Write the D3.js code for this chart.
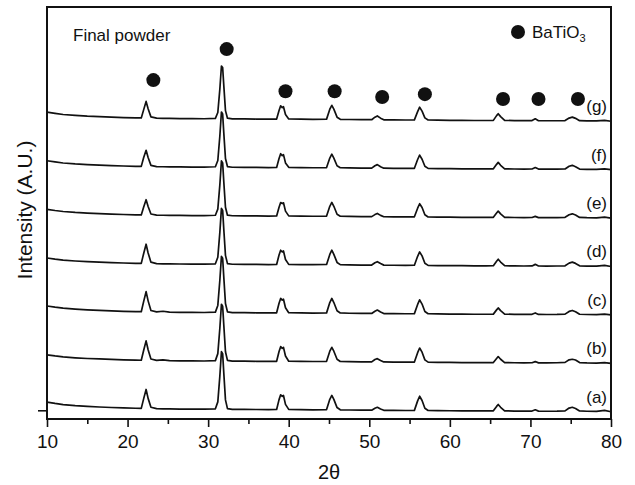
<!DOCTYPE html>
<html>
<head>
<meta charset="utf-8">
<script src="https://cdn.jsdelivr.net/npm/d3@7"></script>
<style>
body { margin: 0; background: #fff; }
svg { display: block; font-family: "Liberation Sans", Arial, sans-serif; }
.trace { fill: none; stroke: #111; stroke-width: 1.7; stroke-linejoin: round; }
.axis text { font-size: 19px; fill: #111; }
.axis line { stroke: #111; stroke-width: 1.6; }
.frame { fill: none; stroke: #111; stroke-width: 2; }
</style>
</head>
<body>
<script>
// 2theta grid the patterns were read at
const twoTheta = [
    10, 11, 12, 13.5, 15, 16.5, 18, 19.5, 21, 21.7,
    22.0, 22.3, 22.55, 22.9, 23.6, 24.4, 25.2, 26.5, 28, 29.5,
    30.9, 31.2, 31.45, 31.65, 31.8, 31.95, 32.15, 32.4, 33, 34.5,
    36, 37.5, 38.5, 38.8, 39.0, 39.2, 39.35, 39.6, 40.0, 41.5,
    43, 44.7, 45.1, 45.35, 45.6, 46.0, 46.4, 47.5, 49, 50.3,
    50.7, 51.0, 51.4, 51.8, 53, 54.5, 55.6, 56.0, 56.25, 56.55,
    56.9, 57.3, 58.5, 60, 61.5, 63, 64.5, 65.4, 65.8, 66.0,
    66.3, 66.8, 68, 69.2, 70.2, 70.6, 71.0, 72, 73.3, 74.3,
    74.8, 75.2, 75.6, 76.1, 77, 78.2, 79.2, 80
];

const seriesLabels = ["(a)", "(b)", "(c)", "(d)", "(e)", "(f)", "(g)"];

const traceA = [
    100, 86, 74, 63, 55, 49, 44, 40, 36, 35,
    135, 230, 138, 46, 32, 30, 29, 28, 27, 26,
    30, 102, 365, 620, 600, 390, 122, 32, 25, 24,
    23, 22, 23, 125, 175, 158, 168, 76, 24, 21,
    20, 22, 128, 168, 128, 43, 20, 18, 16, 16,
    36, 46, 28, 15, 14, 13, 14, 112, 160, 116,
    36, 13, 11, 10, 9, 8, 8, 9, 55, 75,
    46, 9, 7, 6, 7, 20, 6, 5, 6, 9,
    38, 46, 34, 8, 5, 4, 14, 0
];
const traceB = [
    88, 76, 66, 57, 50, 45, 40, 36, 33, 32,
    135, 232, 140, 45, 30, 36, 27, 26, 25, 24,
    28, 100, 360, 610, 590, 385, 120, 30, 23, 22,
    21, 20, 21, 122, 172, 155, 165, 75, 22, 20,
    19, 21, 125, 165, 125, 42, 19, 17, 15, 15,
    40, 48, 30, 14, 13, 12, 13, 110, 158, 115,
    36, 12, 10, 9, 8, 7, 7, 8, 50, 70,
    42, 8, 6, 5, 6, 18, 5, 4, 6, 10,
    36, 42, 34, 8, 4, 3, 8, 0
];
const traceC = [
    92, 80, 70, 60, 52, 46, 41, 37, 34, 33,
    140, 240, 145, 46, 31, 38, 28, 27, 26, 25,
    29, 98, 355, 605, 585, 380, 118, 31, 24, 23,
    22, 21, 22, 120, 170, 152, 162, 74, 23, 20,
    19, 21, 128, 170, 128, 43, 20, 17, 15, 15,
    38, 50, 30, 14, 13, 12, 13, 108, 155, 112,
    35, 12, 10, 9, 8, 7, 7, 8, 52, 72,
    44, 8, 6, 5, 6, 20, 5, 4, 5, 8,
    36, 46, 33, 7, 4, 3, 8, 0
];
const traceD = [
    88, 76, 66, 57, 50, 45, 40, 36, 33, 32,
    135, 230, 140, 45, 30, 28, 27, 26, 25, 24,
    28, 95, 350, 600, 580, 375, 115, 30, 23, 22,
    21, 20, 21, 118, 168, 150, 160, 72, 22, 20,
    19, 21, 125, 168, 125, 42, 19, 17, 15, 15,
    38, 50, 30, 14, 13, 12, 13, 105, 150, 110,
    34, 12, 10, 9, 8, 7, 7, 8, 55, 75,
    46, 8, 6, 5, 6, 22, 5, 4, 5, 7,
    35, 45, 32, 7, 4, 3, 12, 0
];
const traceE = [
    90, 78, 68, 58, 51, 46, 41, 37, 34, 33,
    115, 190, 120, 42, 31, 29, 28, 27, 26, 25,
    29, 92, 340, 590, 570, 365, 112, 30, 24, 23,
    22, 21, 22, 112, 160, 150, 158, 72, 23, 20,
    19, 21, 122, 162, 122, 40, 19, 17, 15, 15,
    36, 48, 28, 14, 13, 12, 13, 102, 148, 110,
    34, 12, 10, 9, 8, 7, 7, 8, 52, 72,
    44, 8, 6, 5, 6, 18, 5, 4, 5, 8,
    34, 44, 32, 7, 4, 3, 9, 0
];
const traceF = [
    92, 80, 69, 59, 52, 46, 42, 38, 35, 34,
    125, 200, 125, 44, 32, 30, 29, 28, 27, 26,
    30, 95, 345, 595, 575, 370, 115, 32, 25, 24,
    23, 22, 23, 115, 165, 145, 155, 70, 24, 21,
    20, 22, 120, 160, 120, 40, 20, 18, 16, 16,
    40, 52, 30, 15, 14, 13, 14, 105, 150, 108,
    35, 13, 11, 10, 9, 8, 8, 9, 55, 75,
    45, 9, 7, 6, 7, 22, 6, 5, 5, 7,
    35, 45, 30, 6, 4, 3, 8, 0
];
const traceG = [
    95, 82, 70, 60, 52, 47, 42, 38, 35, 34,
    120, 205, 130, 45, 32, 30, 29, 28, 27, 26,
    30, 90, 330, 570, 555, 360, 110, 32, 25, 24,
    23, 22, 23, 110, 160, 140, 150, 70, 24, 21,
    20, 22, 125, 165, 125, 42, 20, 18, 16, 16,
    42, 55, 32, 15, 14, 13, 14, 100, 145, 105,
    35, 13, 11, 10, 9, 8, 8, 9, 58, 78,
    48, 9, 7, 6, 7, 26, 6, 5, 5, 7,
    33, 43, 30, 6, 4, 3, 10, 0
];

// BaTiO3 reflection markers (2theta, height in the same A.U.)
const markerTheta = [23.2, 32.3, 39.6, 45.7, 51.6, 56.9, 66.6, 71.0, 75.9];
const markerLevel = [3425, 3745, 3310, 3310, 3250, 3280, 3230, 3230, 3230];

const xTicks = [10, 20, 30, 40, 50, 60, 70, 80];
const xMinorTicks = [15, 25, 35, 45, 55, 65, 75];

function drawPattern(svg)
{
    const width = 635;
    const height = 485;
    const left = 47, right = 611, top = 7, bottom = 419;
    const stackStep = 500;
    const traces = [traceA, traceB, traceC, traceD, traceE, traceF, traceG];

    svg.attr("width", width)
        .attr("height", height);

    let xScale = d3.scaleLinear()
        .domain([10, 80])
        .range([left, right]);
    let yScale = d3.scaleLinear()
        .domain([-75, 4180])
        .range([bottom, top]);

    let lineGen = d3.line()
        .x(d => xScale(d[0]))
        .y(d => yScale(d[1]));

    // stacked patterns, (a) at the bottom
    svg.append("g")
        .selectAll("path")
        .data(traces.map((t, i) => twoTheta.map((x, j) => [x, t[j] + i * stackStep])))
        .enter()
        .append("path")
        .classed("trace", true)
        .attr("d", lineGen);

    svg.append("g")
        .selectAll("text")
        .data(seriesLabels)
        .enter()
        .append("text")
        .attr("x", 607)
        .attr("y", (d, i) => yScale(i * stackStep) - 9)
        .attr("text-anchor", "end")
        .attr("font-size", 17)
        .attr("fill", "#111")
        .text(d => d);

    svg.append("g")
        .selectAll("circle")
        .data(markerTheta)
        .enter()
        .append("circle")
        .attr("cx", d => xScale(d))
        .attr("cy", (d, i) => yScale(markerLevel[i]))
        .attr("r", 7)
        .attr("fill", "#111");

    // frame round the plot
    svg.append("path")
        .classed("frame", true)
        .attr("d", `M${left},${top}H${right}V${bottom}H${left}Z`);

    let xAxis = svg.append("g")
        .classed("axis", true)
        .attr("transform", `translate(0,${bottom})`)
        .call(d3.axisBottom(xScale).tickValues(xTicks).tickSize(8).tickPadding(8));
    xAxis.select(".domain").remove();

    let xMinor = svg.append("g")
        .classed("axis", true)
        .attr("transform", `translate(0,${bottom})`)
        .call(d3.axisBottom(xScale).tickValues(xMinorTicks).tickSize(5).tickFormat(""));
    xMinor.select(".domain").remove();

    let yAxis = svg.append("g")
        .classed("axis", true)
        .attr("transform", `translate(${left},0)`)
        .call(d3.axisLeft(yScale).tickValues([15]).tickSize(9).tickFormat(""));
    yAxis.select(".domain").remove();

    svg.selectAll(".axis text").attr("font-family", null).attr("font-size", null);

    // titles and legend
    svg.append("text")
        .attr("x", 329)
        .attr("y", 479)
        .attr("text-anchor", "middle")
        .attr("font-size", 20)
        .attr("fill", "#111")
        .text("2θ");

    svg.append("text")
        .attr("transform", "translate(32,210) rotate(-90)")
        .attr("text-anchor", "middle")
        .attr("font-size", 21)
        .attr("fill", "#111")
        .text("Intensity (A.U.)");

    svg.append("text")
        .attr("x", 73)
        .attr("y", 41)
        .attr("font-size", 17)
        .attr("fill", "#111")
        .text("Final powder");

    svg.append("circle")
        .attr("cx", 518)
        .attr("cy", 32)
        .attr("r", 7)
        .attr("fill", "#111");

    let legendText = svg.append("text")
        .attr("x", 532)
        .attr("y", 38)
        .attr("font-size", 17)
        .attr("fill", "#111");
    legendText.append("tspan").text("BaTiO");
    legendText.append("tspan")
        .attr("dy", 4)
        .attr("font-size", 11)
        .text("3");
}

drawPattern(d3.select("body").append("svg"));
</script>
</body>
</html>
